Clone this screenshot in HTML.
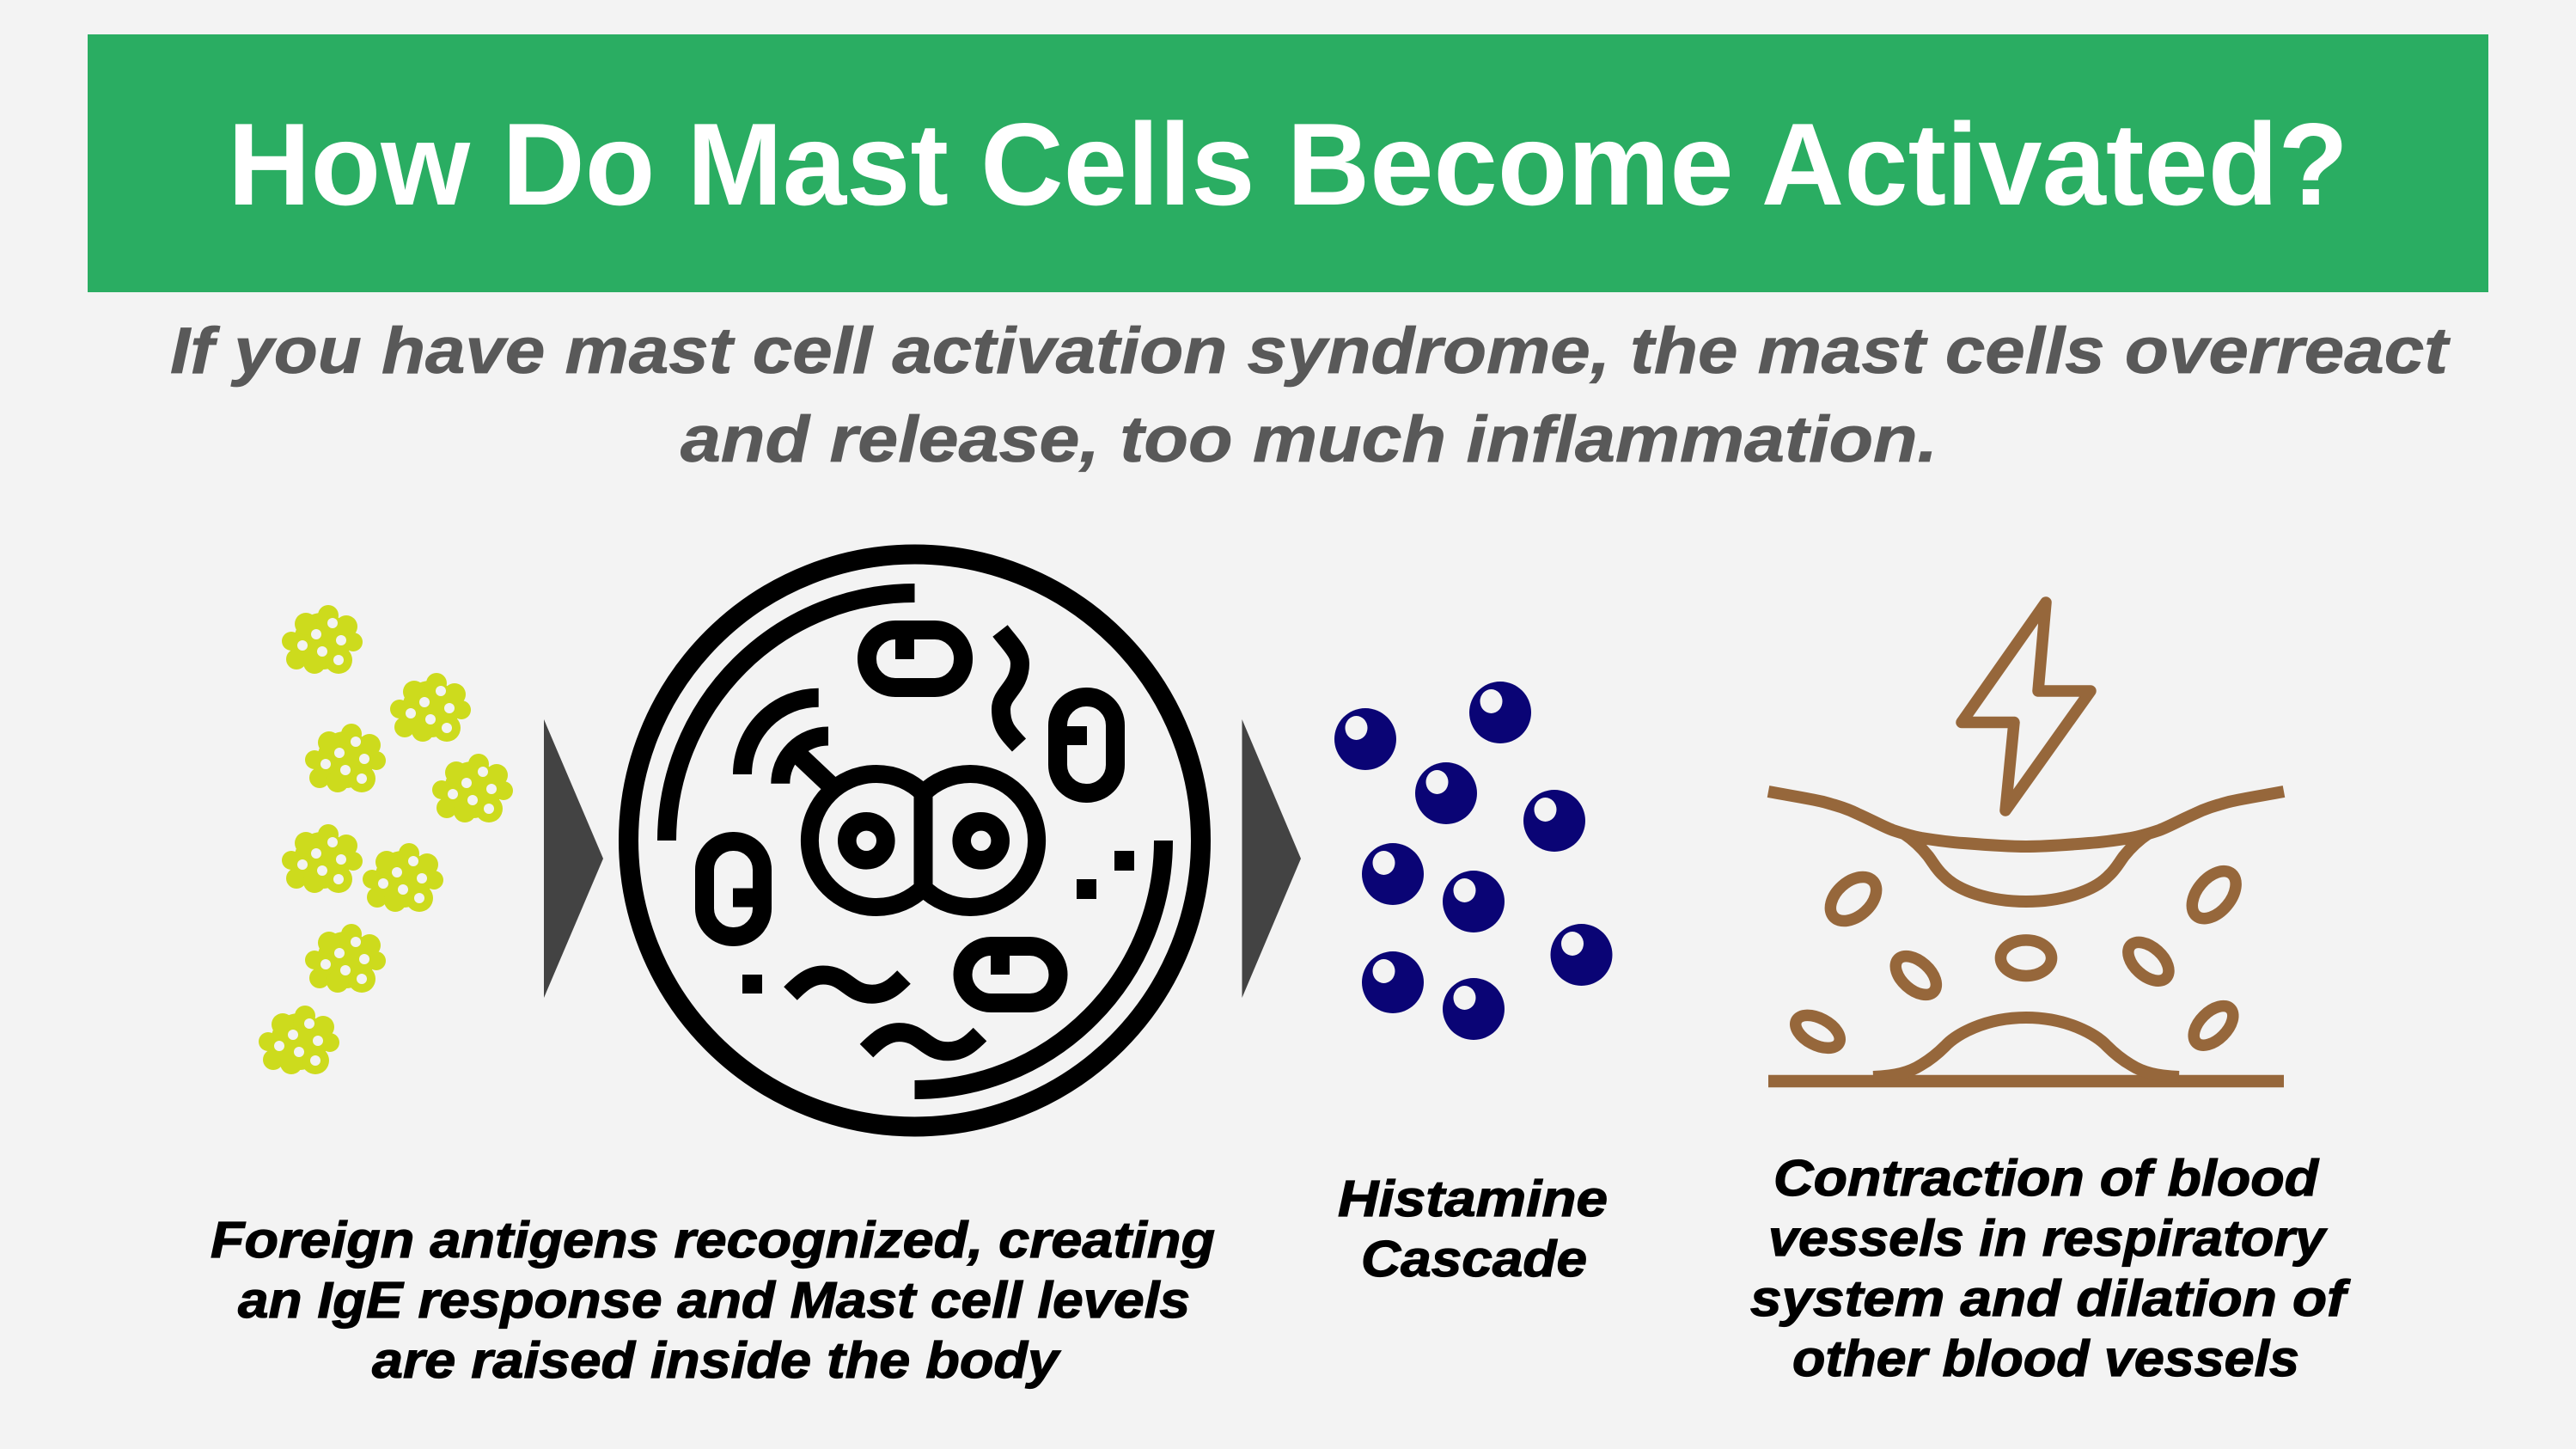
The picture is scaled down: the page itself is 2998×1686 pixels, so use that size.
<!DOCTYPE html>
<html>
<head>
<meta charset="utf-8">
<style>
html,body{margin:0;padding:0;background:#f3f3f3;width:2998px;height:1686px;overflow:hidden}
svg{display:block}
text{font-family:"Liberation Sans",sans-serif;font-weight:bold}
.sub{font-style:italic;fill:#595959;font-size:76px;stroke:#595959;stroke-width:.8px}
.lab{font-style:italic;fill:#000;font-size:59px;stroke:#000;stroke-width:1.2px}
</style>
</head>
<body>
<svg xmlns="http://www.w3.org/2000/svg" width="2998" height="1686" viewBox="0 0 2998 1686">
<defs>
<g id="cl">
<g fill="#cddb1d">
<polygon points="54,12 75,25 83,43 66,64 38,67 17,63 11,42 28,22"/>
<circle cx="47" cy="42" r="33"/><circle cx="54" cy="12" r="12"/><circle cx="28" cy="22" r="13"/><circle cx="11" cy="42" r="11"/><circle cx="17" cy="63" r="12"/><circle cx="38" cy="67" r="13"/><circle cx="66" cy="64" r="16"/><circle cx="83" cy="43" r="11"/><circle cx="75" cy="25" r="13"/>
</g>
<g fill="#f3f3f3">
<circle cx="59" cy="21" r="6"/><circle cx="40" cy="34" r="6"/><circle cx="69" cy="41" r="6"/><circle cx="24" cy="47" r="6"/><circle cx="47" cy="54" r="6"/><circle cx="66" cy="64" r="6"/>
</g>
</g>
<g id="sp"><circle r="36" fill="#0a0475"/><ellipse cx="-10.5" cy="-13" rx="13" ry="14" fill="#f3f3f3"/></g>
</defs>

<rect width="2998" height="1686" fill="#f3f3f3"/>
<rect x="102" y="40" width="2794" height="300" fill="#2aad62"/>
<text x="265" y="238" font-size="136" fill="#fff" textLength="2468" lengthAdjust="spacingAndGlyphs">How Do Mast Cells Become Activated?</text>

<text class="sub" x="198" y="434" textLength="2651" lengthAdjust="spacingAndGlyphs">If you have mast cell activation syndrome, the mast cells overreact</text>
<text class="sub" x="792" y="537" textLength="1463" lengthAdjust="spacingAndGlyphs">and release, too much inflammation.</text>

<!-- clusters -->
<use href="#cl" x="328" y="704"/><use href="#cl" x="454" y="783"/><use href="#cl" x="355" y="842"/><use href="#cl" x="503" y="877"/>
<use href="#cl" x="328" y="959"/><use href="#cl" x="422" y="981"/><use href="#cl" x="355" y="1075"/><use href="#cl" x="301" y="1170"/>

<!-- arrows -->
<polygon points="633,837 702,999 633,1161" fill="#434343"/>
<polygon points="1445.5,837 1514,999 1445.5,1161" fill="#434343"/>

<!-- cell -->
<g fill="none" stroke="#000" stroke-width="22">
<circle cx="1064.5" cy="978" r="333" stroke-width="23"/>
<path d="M1064.5 690A288.5 288.5 0 0 0 776 978"/>
<path d="M1354 978A289.5 289.5 0 0 1 1064.5 1268"/>
<path d="M1074.5 923A77.5 77.5 0 1 0 1074.5 1033A77.5 77.5 0 1 0 1074.5 923Z" stroke-width="21"/>
<path d="M1074.5 923V1033"/>
<circle cx="1008.3" cy="978.3" r="22.5" stroke-width="21.6"/>
<circle cx="1141.7" cy="978.3" r="22.5" stroke-width="21.6"/>
<path d="M930 879L966 913"/>
<path d="M952.7 811.7A88.7 89.3 0 0 0 864 901"/>
<path d="M964 856.5A55.7 55.2 0 0 0 908.3 911.7"/>
<rect x="1009" y="733" width="112" height="67" rx="33" ry="33"/>
<path d="M1053 733V767"/>
<rect x="1231" y="811" width="67" height="112" rx="33" ry="33"/>
<path d="M1231 856H1265"/>
<rect x="820" y="979" width="67" height="111" rx="33" ry="33"/>
<path d="M853 1044.5H887"/>
<rect x="1120.5" y="1101" width="111" height="66" rx="33" ry="33"/>
<path d="M1164 1101V1134"/>
<path d="M1164 734C1178 752 1187 760 1187 772C1187 800 1165 806 1165 825C1165 845 1172 852 1186 867"/>
<path d="M920 1156C932 1144 943 1134.5 958 1134.5C985 1134.5 988 1156.7 1015 1156.7C1032 1156.7 1042 1147 1052 1137"/>
<path d="M1008.5 1222.6C1020.5 1210.6 1031.5 1201.1 1046.5 1201.1C1073.5 1201.1 1076.5 1223.3 1103.5 1223.3C1120.5 1223.3 1130.5 1213.6 1140.5 1203.6"/>
</g>
<g fill="#000">
<rect x="864" y="1134" width="23" height="22"/>
<rect x="1253" y="1023" width="23" height="23"/>
<rect x="1297" y="990" width="23" height="23"/>
</g>

<!-- spheres -->
<use href="#sp" x="1589" y="860"/><use href="#sp" x="1746" y="829"/><use href="#sp" x="1683" y="923"/>
<use href="#sp" x="1809" y="955"/><use href="#sp" x="1621" y="1017"/><use href="#sp" x="1715" y="1049"/>
<use href="#sp" x="1840.5" y="1111"/><use href="#sp" x="1621" y="1143"/><use href="#sp" x="1715" y="1174"/>

<!-- vessel -->
<g fill="none" stroke="#96673b" stroke-width="14">
<path d="M2381 701L2372 804H2433L2334 943L2344 840.5H2283Z" stroke-linejoin="round" stroke-width="13.5"/>
<path d="M2058 921C2085 926 2105 929 2122 933C2140 938 2150 941 2162 947C2180 955 2190 961 2203 966C2215 970 2225 973 2236 975C2255 978 2270 980 2285 981C2310 983 2335 985 2358 985C2381 985 2406 983 2431 981C2446 980 2461 978 2480 975C2491 973 2501 970 2513 966C2526 961 2536 955 2554 947C2566 941 2576 938 2594 933C2611 929 2631 926 2658 921"/>
<path d="M2216 970C2228 978 2236 986 2244 996C2250 1004 2254 1012 2262 1019C2278 1036 2315 1049 2358 1049C2401 1049 2438 1036 2454 1019C2462 1012 2466 1004 2472 996C2480 986 2488 978 2500 970"/>
<path d="M2058 1258H2658" stroke-width="14.5"/>
<path d="M2180 1253C2205 1252 2222 1248 2236 1239C2248 1232 2256 1225 2264 1217C2276 1204 2310 1184 2358 1184C2406 1184 2440 1204 2452 1217C2460 1225 2468 1232 2480 1239C2494 1248 2511 1252 2536 1253"/>
<g stroke-width="13.5">
<ellipse rx="31" ry="20" transform="translate(2157 1046) rotate(-42)"/>
<ellipse rx="32" ry="19.5" transform="translate(2576.7 1041.2) rotate(-50)"/>
<ellipse rx="28" ry="16.5" transform="translate(2229.8 1135) rotate(42)"/>
<ellipse rx="29.6" ry="20.8" cx="2358" cy="1114.7"/>
<ellipse rx="28" ry="16.5" transform="translate(2500.4 1118.8) rotate(42)"/>
<ellipse rx="28" ry="15.5" transform="translate(2115.5 1200.4) rotate(28)"/>
<ellipse rx="28" ry="16" transform="translate(2576 1193.4) rotate(-45)"/>
</g>
</g>

<!-- labels -->
<text class="lab" x="245" y="1463" textLength="1169" lengthAdjust="spacingAndGlyphs">Foreign antigens recognized, creating</text>
<text class="lab" x="277" y="1533" textLength="1108" lengthAdjust="spacingAndGlyphs">an IgE response and Mast cell levels</text>
<text class="lab" x="433" y="1603" textLength="799" lengthAdjust="spacingAndGlyphs">are raised inside the body</text>
<text class="lab" x="1557" y="1415" textLength="314" lengthAdjust="spacingAndGlyphs">Histamine</text>
<text class="lab" x="1584" y="1485" textLength="263" lengthAdjust="spacingAndGlyphs">Cascade</text>
<text class="lab" x="2064" y="1391" textLength="634" lengthAdjust="spacingAndGlyphs">Contraction of blood</text>
<text class="lab" x="2058" y="1461" textLength="648" lengthAdjust="spacingAndGlyphs">vessels in respiratory</text>
<text class="lab" x="2037" y="1531" textLength="693" lengthAdjust="spacingAndGlyphs">system and dilation of</text>
<text class="lab" x="2086" y="1601" textLength="590" lengthAdjust="spacingAndGlyphs">other blood vessels</text>
</svg>
</body>
</html>
